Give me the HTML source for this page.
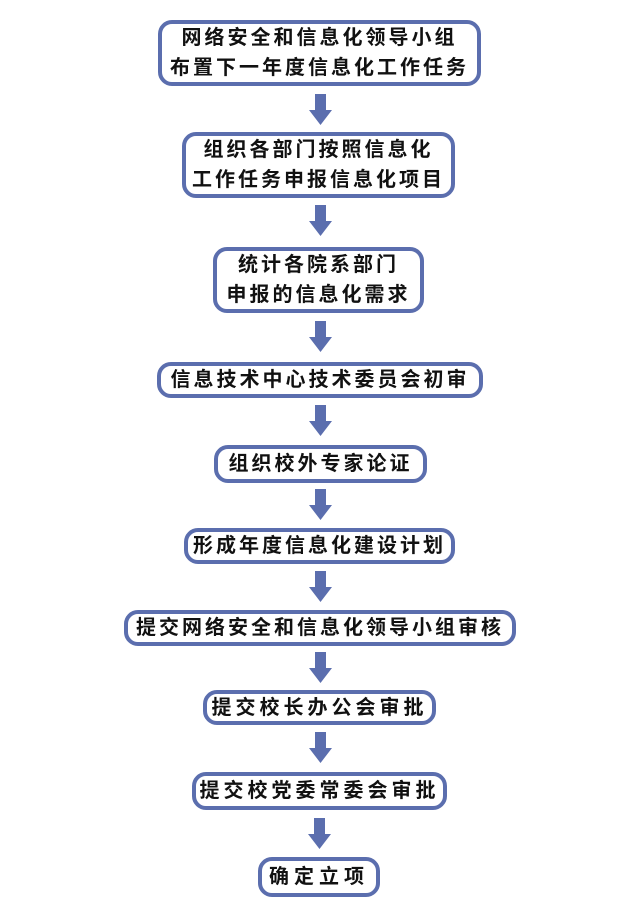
<!DOCTYPE html>
<html><head><meta charset="utf-8"><style>
body{margin:0;background:#fff;width:639px;height:918px;position:relative;overflow:hidden}
.b{position:absolute;box-sizing:border-box;border:4px solid #5b6eae;border-radius:14px;background:#fff;display:flex;align-items:center;justify-content:center;text-align:center;font-family:"Liberation Sans","Noto Sans CJK SC",sans-serif;font-weight:bold;font-size:20px;line-height:30px;letter-spacing:3px;color:#111;white-space:nowrap}
svg{position:absolute;left:0;top:0}
</style></head><body>
<svg width="639" height="918">
<g fill="#5b6eae">
<path d="M315 94h11v16h6l-11.5 15l-11.5-15h6z"/>
<path d="M315 205h11v16h6l-11.5 15l-11.5-15h6z"/>
<path d="M315 321h11v16h6l-11.5 15l-11.5-15h6z"/>
<path d="M315 405h11v16h6l-11.5 15l-11.5-15h6z"/>
<path d="M315 489h11v16h6l-11.5 15l-11.5-15h6z"/>
<path d="M315 571h11v16h6l-11.5 15l-11.5-15h6z"/>
<path d="M315 652h11v16h6l-11.5 15l-11.5-15h6z"/>
<path d="M315 732h11v16h6l-11.5 15l-11.5-15h6z"/>
<path d="M314 818h11v16h6l-11.5 15l-11.5-15h6z"/>
</g></svg>
<div class="b" style="left:158px;top:20px;width:323px;height:66px">网络安全和信息化领导小组<br>布置下一年度信息化工作任务</div>
<div class="b" style="left:182px;top:132px;width:273px;height:66px">组织各部门按照信息化<br>工作任务申报信息化项目</div>
<div class="b" style="left:213px;top:247px;width:211px;height:66px">统计各院系部门<br>申报的信息化需求</div>
<div class="b" style="left:157px;top:362px;width:326px;height:36px">信息技术中心技术委员会初审</div>
<div class="b" style="left:214px;top:445px;width:213px;height:38px">组织校外专家论证</div>
<div class="b" style="left:184px;top:528px;width:271px;height:36px">形成年度信息化建设计划</div>
<div class="b" style="left:124px;top:610px;width:392px;height:36px;letter-spacing:3px">提交网络安全和信息化领导小组审核</div>
<div class="b" style="left:203px;top:690px;width:233px;height:35px;letter-spacing:4px">提交校长办公会审批</div>
<div class="b" style="left:192px;top:772px;width:255px;height:38px;letter-spacing:4px">提交校党委常委会审批</div>
<div class="b" style="left:258px;top:857px;width:122px;height:40px;letter-spacing:5px">确定立项</div>
</body></html>
